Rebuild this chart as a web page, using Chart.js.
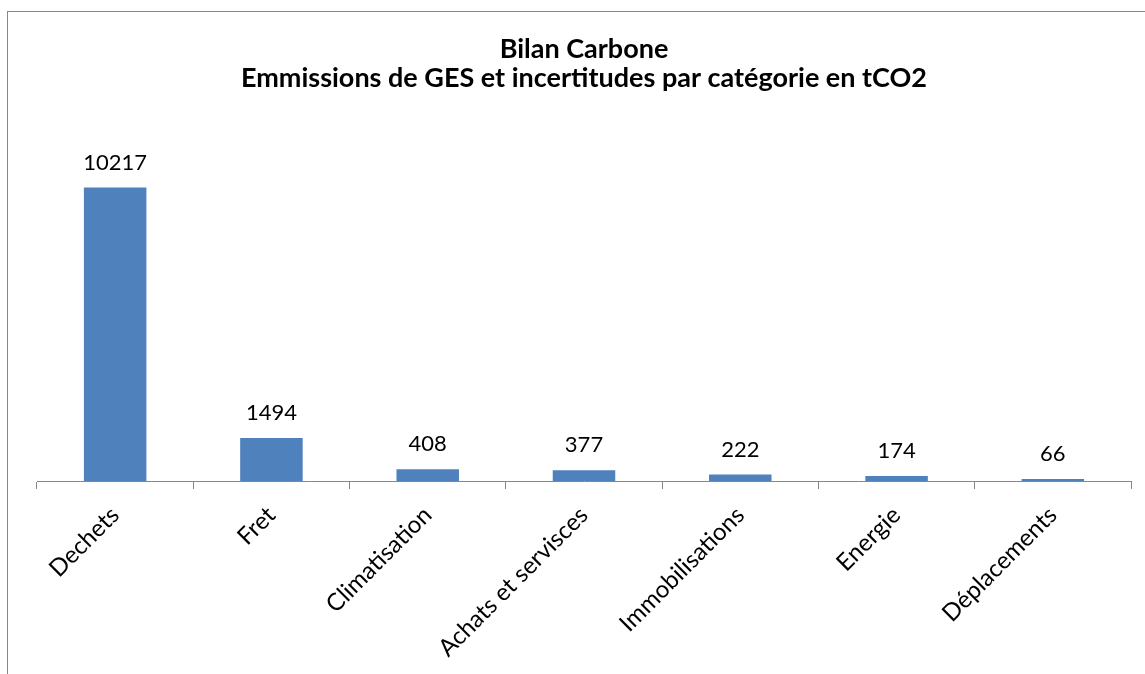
<!DOCTYPE html>
<html>
<head>
<meta charset="utf-8">
<script src="https://cdn.jsdelivr.net/npm/chart.js@4"></script>
<style>
  html, body { margin: 0; padding: 0; background: #fff; overflow: hidden; }
  #frame {
    position: absolute; left: 7px; top: 11px; width: 1200px; height: 700px;
    border-left: 1px solid #878787; border-top: 1px solid #878787;
  }
  #wrap { position: absolute; left: 0; top: 0; width: 1145px; height: 674px; }
</style>
</head>
<body>
<div id="frame"></div>
<div id="wrap"><canvas id="chart"></canvas></div>
<script>
// Chart data
const categories = ['Dechets', 'Fret', 'Climatisation', 'Achats et servisces', 'Immobilisations', 'Energie', 'Déplacements'];
const emissions = [10217, 1494, 408, 377, 222, 174, 66];
const titleLines = ['Bilan Carbone', 'Emmissions de GES et incertitudes par catégorie en tCO2'];

const FONT = 'Lato, "Open Sans", sans-serif';

// Draws the value above each bar
const valueLabels = {
    id: 'valueLabels',
    afterDatasetsDraw(chart) {
        const ctx = chart.ctx;
        const meta = chart.getDatasetMeta(0);
        ctx.save();
        ctx.font = '22px ' + FONT;
        ctx.fillStyle = '#000';
        ctx.textAlign = 'center';
        ctx.textBaseline = 'alphabetic';
        meta.data.forEach((bar, i) => {
            ctx.fillText(String(emissions[i]), bar.x, bar.y - 18);
        });
        ctx.restore();
    }
};

const ctx = document.getElementById('chart').getContext('2d');
new Chart(ctx, {
    type: 'bar',
    data: {
        labels: categories,
        datasets: [{
            data: emissions,
            backgroundColor: '#4F81BD',
            borderWidth: 0,
            categoryPercentage: 1,
            barPercentage: 0.4
        }]
    },
    options: {
        responsive: true,
        maintainAspectRatio: false,
        animation: false,
        layout: {
            padding: { left: 37, right: 14, top: 0, bottom: 0 }
        },
        scales: {
            y: {
                display: false,
                min: 0,
                max: 12000
            },
            x: {
                // fixed height so the axis line sits where it does in the original
                afterFit(scale) {
                    scale.height = 193;
                },
                grid: {
                    offset: true,
                    drawOnChartArea: false,
                    drawTicks: true,
                    tickLength: 8,
                    color: '#878787'
                },
                border: { color: '#878787', width: 1 },
                ticks: {
                    autoSkip: false,
                    minRotation: 45,
                    maxRotation: 45,
                    padding: 12,
                    color: '#000',
                    font: { family: FONT, size: 24 }
                }
            }
        },
        plugins: {
            legend: { display: false },
            tooltip: { enabled: false },
            title: {
                display: true,
                text: titleLines,
                color: '#000',
                font: { family: FONT, size: 27, weight: 'bold', lineHeight: 1.08 },
                padding: { top: 35, bottom: 43 }
            }
        }
    },
    plugins: [valueLabels]
});
</script>
</body>
</html>
